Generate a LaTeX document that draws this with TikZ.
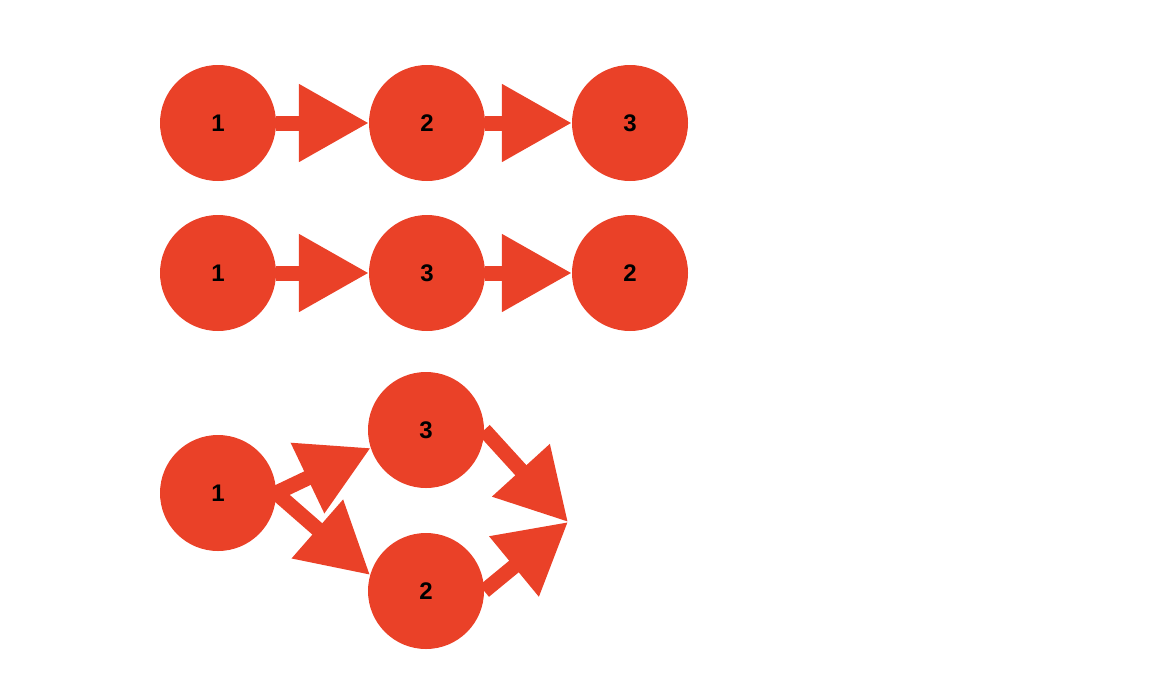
\documentclass[tikz,border=0pt]{standalone}
\usepackage{fontspec}
\setmainfont{Liberation Sans}
\usetikzlibrary{arrows.meta}
\definecolor{nodered}{RGB}{234,65,40}
\tikzset{
  vnode/.style={circle, fill=nodered, draw=none, minimum size=116pt, inner sep=0pt,
    font=\fontsize{24}{28}\selectfont\bfseries, text=black},
  bigarrow/.style={draw=nodered, line width=15pt,
    -{Triangle[length=70pt,width=74pt]}},
}
\begin{document}
\begin{tikzpicture}[x=1pt,y=-1pt]
\useasboundingbox (0,0) rectangle (1164,696);
% row 1
\node[vnode] (a1) at (218,123) {1};
\node[vnode] (a2) at (427,123) {2};
\node[vnode] (a3) at (630,123) {3};
\draw[bigarrow] (a1) -- (a2);
\draw[bigarrow] (a2) -- (a3);
% row 2
\node[vnode] (b1) at (218,273) {1};
\node[vnode] (b3) at (427,273) {3};
\node[vnode] (b2) at (630,273) {2};
\draw[bigarrow] (b1) -- (b3);
\draw[bigarrow] (b3) -- (b2);
% row 3
\node[vnode] (c1) at (218,493) {1};
\node[vnode] (c3) at (426,430) {3};
\node[vnode] (c2) at (426,591) {2};
\coordinate (cx) at (568,522);
\draw[bigarrow] (c1.east) -- (c3.198);
\draw[bigarrow] (c1.east) -- (c2.164);
\draw[bigarrow] (c3.east) -- (cx);
\draw[bigarrow] (c2.east) -- (cx);
\end{tikzpicture}
\end{document}
